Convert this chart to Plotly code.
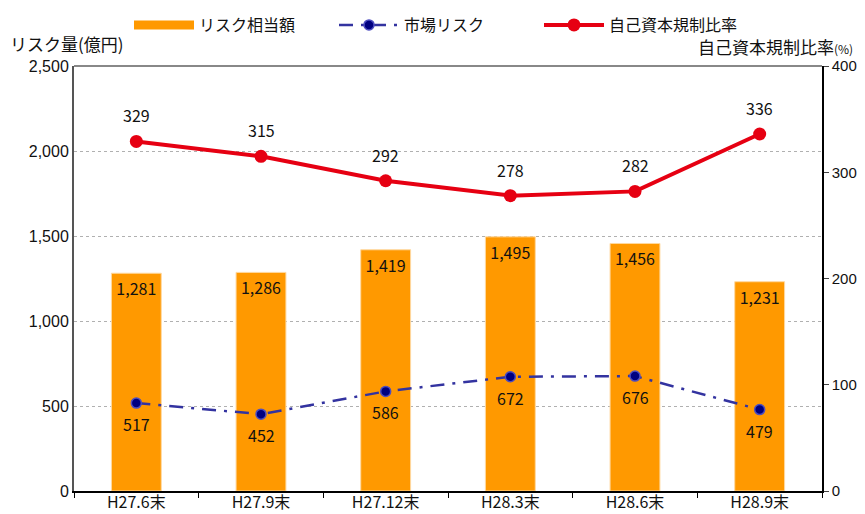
import plotly.graph_objects as go

categories = ["H27.6末", "H27.9末", "H27.12末", "H28.3末", "H28.6末", "H28.9末"]
risk_amount = [1281, 1286, 1419, 1495, 1456, 1231]
market_risk = [517, 452, 586, 672, 676, 479]
capital_ratio = [329, 315, 292, 278, 282, 336]

FONT = "Noto Sans CJK JP"

fig = go.Figure()

fig.add_trace(go.Bar(
    x=categories, y=risk_amount, name="リスク相当額", showlegend=False,
    marker=dict(color="#ff9900", line=dict(color="#ffd9a0", width=1)),
    width=0.4,
    text=[f"{v:,}" for v in risk_amount], textposition="inside",
    insidetextanchor="end", textfont=dict(color="#111111", size=16, family=FONT),
    yaxis="y",
))
# legend entry for the bars (wide orange swatch as in the original)
fig.add_trace(go.Scatter(
    x=[None], y=[None], name="リスク相当額", mode="lines",
    line=dict(color="#ff9900", width=9), yaxis="y",
))

fig.add_trace(go.Scatter(
    x=categories, y=market_risk, name="市場リスク", mode="lines+markers",
    line=dict(color="#3333a0", width=2.5, dash="14px,8px,3px,8px"),
    marker=dict(color="#000080", size=10, line=dict(color="#4d4dc0", width=1.5)),
    yaxis="y",
))

fig.add_trace(go.Scatter(
    x=categories, y=capital_ratio, name="自己資本規制比率", mode="lines+markers",
    line=dict(color="#e60012", width=4),
    marker=dict(color="#e60012", size=13),
    yaxis="y2",
))

annotations = []
for c, v in zip(categories, market_risk):
    annotations.append(dict(x=c, y=v, xref="x", yref="y", text=f"{v:,}", showarrow=False,
                            yshift=-21, font=dict(size=16, color="#111111", family=FONT)))
for c, v in zip(categories, capital_ratio):
    annotations.append(dict(x=c, y=v, xref="x", yref="y2", text=f"{v}", showarrow=False,
                            yshift=26, font=dict(size=16, color="#111111", family=FONT)))

annotations.append(dict(x=-0.088, y=1.052, xref="paper", yref="paper", xanchor="left",
                        yanchor="middle", text="リスク量(億円)", showarrow=False,
                        font=dict(size=17, color="#111111", family=FONT)))
annotations.append(dict(x=1.044, y=1.045, xref="paper", yref="paper", xanchor="right",
                        yanchor="middle",
                        text="自己資本規制比率<span style='font-size:12px'>(%)</span>", showarrow=False,
                        font=dict(size=17, color="#111111", family=FONT)))

# page body has an 8px margin, so the figure is 8px smaller than the window
fig.update_layout(
    width=857, height=506,
    margin=dict(l=66, r=43, t=58, b=23, autoexpand=False),
    plot_bgcolor="white", paper_bgcolor="white",
    font=dict(family=FONT, size=16, color="#111111"),
    showlegend=True,
    legend=dict(orientation="h", x=0.5, xref="container", xanchor="center",
                y=1, yref="container", yanchor="top", bgcolor="rgba(0,0,0,0)",
                font=dict(size=16, family=FONT), tracegroupgap=0, itemwidth=60,
                entrywidth=130, entrywidthmode="pixels"),
    xaxis=dict(showline=True, linecolor="#000000", linewidth=1.5, ticks="outside",
               tickson="boundaries", ticklen=5, tickcolor="#000000", showgrid=False,
               tickfont=dict(size=16, family=FONT), automargin=False,
               ticklabelstandoff=-4),
    yaxis=dict(range=[0, 2500], dtick=500, tickformat=",d", showline=True, linecolor="#555555",
               linewidth=2, showgrid=True, gridcolor="#b0b0b0", griddash="dot", gridwidth=1,
               ticks="", tickfont=dict(size=16, family="Liberation Sans"), zeroline=False,
               automargin=False),
    yaxis2=dict(range=[0, 400], dtick=100, overlaying="y", side="right", showline=True,
                linecolor="#000000", linewidth=1.5, ticks="outside", ticklen=5, showgrid=False,
                tickfont=dict(size=15, family="Liberation Sans"), zeroline=False, automargin=False),
    annotations=annotations,
    shapes=[dict(type="line", xref="paper", yref="paper", x0=0, x1=1, y0=1, y1=1,
                 line=dict(color="#888888", width=2))],
)

fig.write_html("out.html")
